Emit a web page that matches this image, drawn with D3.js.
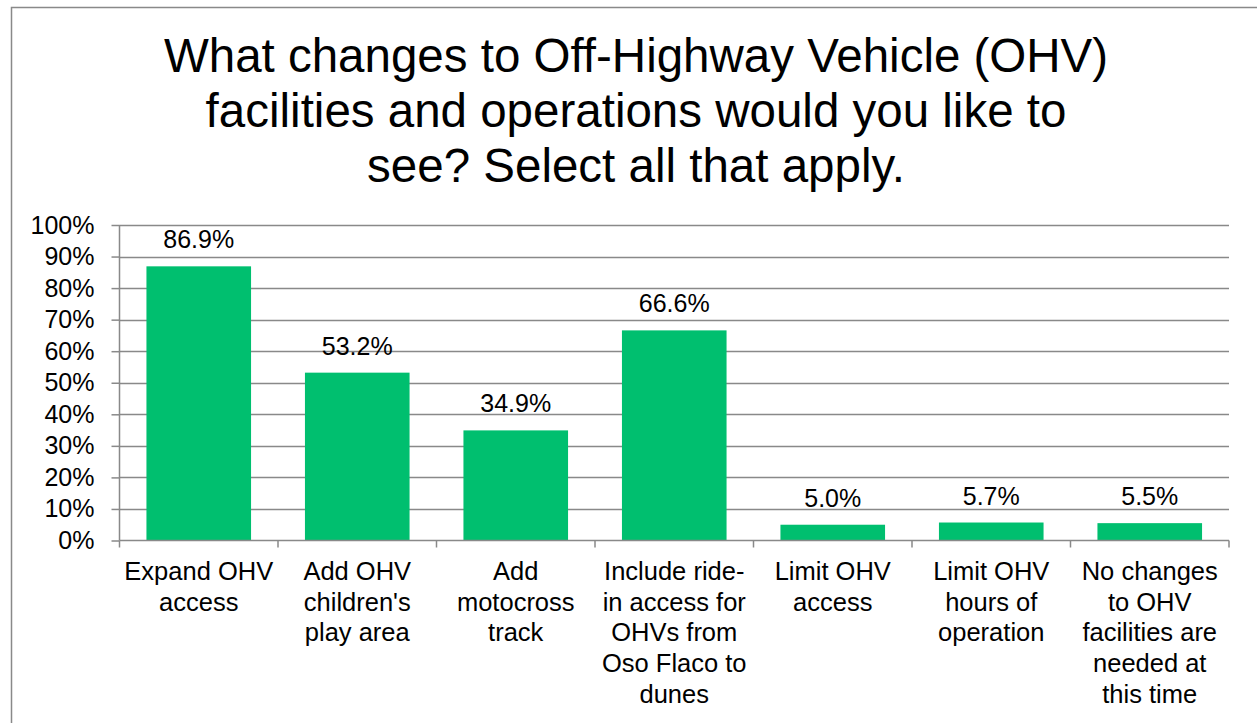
<!DOCTYPE html>
<html>
<head>
<meta charset="utf-8">
<script src="https://cdn.jsdelivr.net/npm/d3@7"></script>
<style>
  body { margin: 0; background: #fff; }
  text { font-family: "Liberation Sans", Arial, sans-serif; fill: #000; }
</style>
</head>
<body>
<svg id="chart" width="1257" height="723"></svg>
<script>
// chart data
const titleLines = [
  'What changes to Off-Highway Vehicle (OHV)',
  'facilities and operations would you like to',
  'see? Select all that apply.'
];
const categories = [
  'Expand OHV\naccess',
  "Add OHV\nchildren's\nplay area",
  'Add\nmotocross\ntrack',
  'Include ride-\nin access for\nOHVs from\nOso Flaco to\ndunes',
  'Limit OHV\naccess',
  'Limit OHV\nhours of\noperation',
  'No changes\nto OHV\nfacilities are\nneeded at\nthis time'
];
const values = [0.869, 0.532, 0.349, 0.666, 0.050, 0.057, 0.055];
const yTicks = [0, 0.1, 0.2, 0.3, 0.4, 0.5, 0.6, 0.7, 0.8, 0.9, 1.0];

const svg = d3.select('#chart');
const gridColor = '#898989';

// dimension stuff
const marginLeft = 119.5;
const marginRight = 1229;
const marginTop = 225;
const marginBottom = 540.5;

// outer frame (only top + left visible in reference)
svg.append('rect')
  .attr('x', 11.5).attr('y', 7.5)
  .attr('width', 1300).attr('height', 800)
  .attr('fill', 'none')
  .attr('stroke', gridColor)
  .attr('stroke-width', 1.5);

// title
svg.append('g')
  .selectAll('text')
  .data(titleLines)
  .join('text')
  .attr('x', 636)
  .attr('y', (d, i) => 72 + i * 55)
  .attr('text-anchor', 'middle')
  .style('font-size', '47.5px')
  .text(d => d);

// scales
const x = d3.scaleBand()
  .domain(categories)
  .range([marginLeft, marginRight])
  .padding(0);

const y = d3.scaleLinear()
  .domain([0, 1])
  .range([marginBottom, marginTop]);

// gridlines
svg.append('g')
  .selectAll('line')
  .data(yTicks.filter(d => d > 0))
  .join('line')
  .attr('x1', marginLeft).attr('x2', marginRight)
  .attr('y1', d => Math.round(y(d)) + 0.5)
  .attr('y2', d => Math.round(y(d)) + 0.5)
  .attr('stroke', gridColor)
  .attr('stroke-width', 1.5);

// y axis
const yAxis = svg.append('g')
  .attr('transform', `translate(${marginLeft},0)`)
  .call(d3.axisLeft(y).tickValues(yTicks).tickFormat(d3.format('.0%')).tickSize(8).tickPadding(17));
yAxis.selectAll('path, line').attr('stroke', gridColor).attr('stroke-width', 1.5);
yAxis.select('.domain').attr('d', `M0,${marginTop}V${marginBottom}`);
yAxis.selectAll('text')
  .style('font-size', '25px')
  .style('font-family', '"Liberation Sans", Arial, sans-serif')
  .attr('fill', '#000');

// bars
const barW = x.bandwidth() * 0.66;
svg.append('g')
  .selectAll('rect')
  .data(values)
  .join('rect')
  .attr('x', (d, i) => x(categories[i]) + (x.bandwidth() - barW) / 2)
  .attr('y', d => y(d))
  .attr('width', barW)
  .attr('height', d => y(0) - y(d))
  .attr('fill', '#00BF6F');

// x axis
const xTickPos = categories.map(c => x(c)).concat([marginRight]);
const xAxis = svg.append('g');
xAxis.append('line')
  .attr('x1', marginLeft).attr('x2', marginRight)
  .attr('y1', marginBottom).attr('y2', marginBottom)
  .attr('stroke', gridColor).attr('stroke-width', 1.5);
xAxis.selectAll('.tick')
  .data(xTickPos)
  .join('line')
  .attr('class', 'tick')
  .attr('x1', d => d).attr('x2', d => d)
  .attr('y1', marginBottom).attr('y2', marginBottom + 7)
  .attr('stroke', gridColor).attr('stroke-width', 1.5);

// category labels
xAxis.selectAll('.cat')
  .data(categories)
  .join('text')
  .attr('class', 'cat')
  .attr('text-anchor', 'middle')
  .style('font-size', '25.5px')
  .each(function (d) {
    const t = d3.select(this);
    d.split('\n').forEach((line, i) => {
      t.append('tspan')
        .attr('x', x(d) + x.bandwidth() / 2)
        .attr('y', 580 + i * 30.7)
        .text(line);
    });
  });

// value labels
svg.append('g')
  .selectAll('text')
  .data(values)
  .join('text')
  .attr('x', (d, i) => x(categories[i]) + x.bandwidth() / 2)
  .attr('y', d => y(d) - 18)
  .attr('text-anchor', 'middle')
  .style('font-size', '25px')
  .text(d => d3.format('.1%')(d));
</script>
</body>
</html>
